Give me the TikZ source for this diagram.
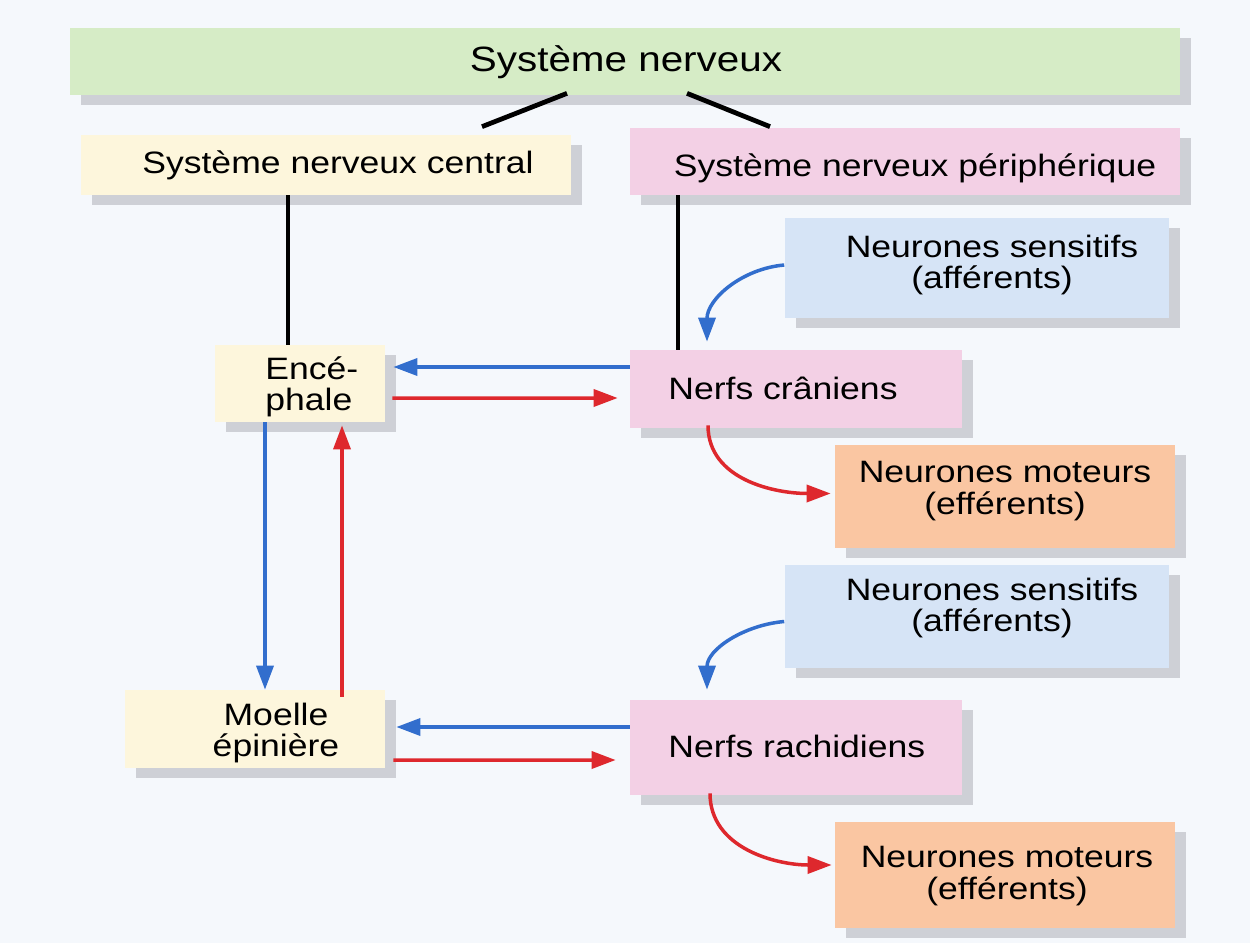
\documentclass[tikz,border=0pt]{standalone}
\usepackage{fontspec}
\setmainfont{Liberation Sans}[FakeStretch=1.15]
\usetikzlibrary{arrows.meta,shadows}
\definecolor{bgc}{RGB}{245,248,252}
\definecolor{cgreen}{RGB}{214,236,198}
\definecolor{cyellow}{RGB}{253,246,220}
\definecolor{cpink}{RGB}{243,208,229}
\definecolor{cblue}{RGB}{214,228,246}
\definecolor{corange}{RGB}{250,198,162}
\definecolor{shgray}{RGB}{160,160,168}
\definecolor{ablue}{RGB}{50,110,205}
\definecolor{ared}{RGB}{222,40,45}
\begin{document}
\begin{tikzpicture}[x=0.02cm,y=-0.02cm,
  box/.style={rectangle, inner sep=0pt, draw=none,
    drop shadow={shadow xshift=0.22cm, shadow yshift=-0.2cm, fill=shgray, opacity=0.45}},
  txt/.style={inner sep=0pt, font=\fontsize{17.6}{17.8}\selectfont},
  blk/.style={line width=0.095cm, black},
  tip/.style={-{Triangle[length=0.48cm,width=0.34cm]}},
  bl/.style={line width=0.07cm, ablue, tip},
  rd/.style={line width=0.07cm, ared, tip}]
\useasboundingbox (0,0) rectangle (1250,943);
\fill[bgc] (0,0) rectangle (1250,943);

% boxes
\node[box, fill=cgreen, minimum width=22.2cm, minimum height=1.34cm] (sn) at (625,61.5) {};
\node[box, fill=cyellow, minimum width=9.8cm, minimum height=1.2cm] (snc) at (326,165) {};
\node[box, fill=cpink, minimum width=11cm, minimum height=1.34cm] (snp) at (905,161.5) {};
\node[box, fill=cblue, minimum width=7.7cm, minimum height=2cm] (ns1) at (977,268) {};
\node[box, fill=cyellow, minimum width=3.4cm, minimum height=1.54cm] (enc) at (300,383.5) {};
\node[box, fill=cpink, minimum width=6.64cm, minimum height=1.56cm] (nc) at (796,389) {};
\node[box, fill=corange, minimum width=6.8cm, minimum height=2.06cm] (nm1) at (1005,496.5) {};
\node[box, fill=cblue, minimum width=7.7cm, minimum height=2.06cm] (ns2) at (977,616.5) {};
\node[box, fill=cyellow, minimum width=5.2cm, minimum height=1.56cm] (moe) at (255,729) {};
\node[box, fill=cpink, minimum width=6.64cm, minimum height=1.9cm] (nr) at (796,747.5) {};
\node[box, fill=corange, minimum width=6.8cm, minimum height=2.12cm] (nm2) at (1005,875) {};

% texts
\node[txt, font=\fontsize{20}{20.5}\selectfont] (snT) at (626,62) {Système nerveux};
\node[txt] (sncT) at (338,165) {Système nerveux central};
\node[txt] (snpT) at (915,168) {Système nerveux périphérique};
\node[txt, align=center] (ns1T) at (992,265) {Neurones sensitifs\\(afférents)};
\node[txt, align=left, anchor=west] (encT) at (265,387) {Encé-\\phale};
\node[txt, anchor=west] (ncT) at (668,388) {Nerfs crâniens};
\node[txt, align=center] (nm1T) at (1005,491) {Neurones moteurs\\(efférents)};
\node[txt, align=center] (ns2T) at (992,608) {Neurones sensitifs\\(afférents)};
\node[txt, align=center] (moeT) at (276,733) {Moelle\\épinière};
\node[txt, anchor=west] (nrT) at (668,746) {Nerfs rachidiens};
\node[txt, align=center] (nm2T) at (1007,876) {Neurones moteurs\\(efférents)};

% black connectors
\draw[blk] ([shift={(-58,-2)}]sn.south) -- ([shift={(156,-8)}]snc.north);
\draw[blk] ([shift={(62,-2)}]sn.south) -- ([shift={(-135,-1)}]snp.north);
\draw[blk] ([shift={(-38,0)}]snc.south) -- ([shift={(-12,0)}]enc.north);
\draw[blk] ([shift={(-227,0)}]snp.south) -- ([shift={(-118,0)}]nc.north);

% horizontal arrows
\draw[bl] ([shift={(0,-22)}]nc.west) -- ([shift={(8,-16.5)}]enc.east);
\draw[rd] ([shift={(7,14.5)}]enc.east) -- ([shift={(-12,9)}]nc.west);
\draw[bl] ([shift={(0,-20.5)}]nr.west) -- ([shift={(11,-2)}]moe.east);
\draw[rd] ([shift={(8,31)}]moe.east) -- ([shift={(-14,12.5)}]nr.west);

% vertical arrows
\draw[bl] ([shift={(-35,0)}]enc.south) -- ([shift={(10,0)}]moe.north);
\draw[rd] ([shift={(87,7)}]moe.north) -- ([shift={(42,3)}]enc.south);

% curved arrows
\draw[bl] ([shift={(0,-3)}]ns1.west) to[out=185,in=90] ([shift={(-89,-8)}]nc.north);
\draw[rd] ([shift={(-88,-3)}]nc.south) to[out=-90,in=180] ([shift={(-4,-3)}]nm1.west);
\draw[bl] ([shift={(0,5)}]ns2.west) to[out=185,in=90] ([shift={(-89,-10)}]nr.north);
\draw[rd] ([shift={(-86,-2)}]nr.south) to[out=-90,in=180] ([shift={(-3,-10)}]nm2.west);
\end{tikzpicture}
\end{document}
